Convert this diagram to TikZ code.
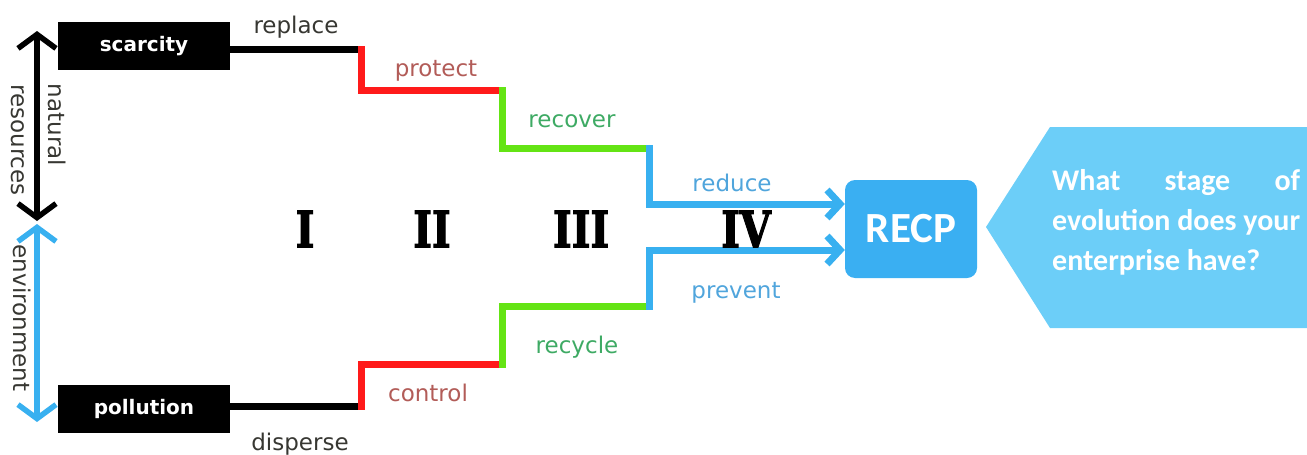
\documentclass[tikz,border=0pt]{standalone}
\usepackage{fontspec}
\setmainfont{DejaVu Sans}
\newfontfamily\carlito{Carlito}
\newfontfamily\numfont{DejaVu Serif}[BoldFeatures={FakeBold=2.5}]
\usetikzlibrary{arrows.meta}
\definecolor{sred}{RGB}{255,26,26}
\definecolor{sgreen}{RGB}{100,228,20}
\definecolor{sblue}{RGB}{56,176,240}
\definecolor{tred}{RGB}{178,92,88}
\definecolor{tgreen}{RGB}{62,170,100}
\definecolor{tblue}{RGB}{80,165,220}
\definecolor{tdark}{RGB}{55,55,50}
\definecolor{recpblue}{RGB}{58,175,242}
\definecolor{hexblue}{RGB}{108,206,248}
\begin{document}
\begin{tikzpicture}[x=1pt,y=-1pt,
  blackbox/.style={fill=black,minimum width=172pt,minimum height=48pt,inner sep=0pt,text=white,font=\bfseries\fontsize{20}{22}\selectfont},
  stair/.style={line width=7pt,line cap=rect},
  lbl/.style={anchor=base,inner sep=0pt,font=\fontsize{23}{26}\selectfont},
  side/.style={rotate=-90,inner sep=0pt,text=tdark,font=\fontsize{23}{26}\selectfont},
  roman/.style={inner sep=0pt,font=\numfont\bfseries\fontsize{50}{50}\selectfont},
  sidearrow/.style={line width=5.5pt,{Straight Barb[length=14pt,width=38pt]}-{Straight Barb[length=14pt,width=38pt]}},
  inarrow/.style={-{Straight Barb[length=13pt,width=28pt]}},
  question/.style={anchor=base west,inner sep=0pt,text=white,font=\carlito\bfseries\fontsize{30}{40}\selectfont},
]
\useasboundingbox (0,0) rectangle (1307,455);

% left side arrows
\coordinate (nt) at (37,31);
\coordinate (nb) at (37,221);
\coordinate (et) at (37,224);
\coordinate (eb) at (37,422);
\draw[sidearrow,black] (nt) -- (nb);
\draw[sidearrow,sblue] (et) -- (eb);
\node[side] (nat) at (57,125) {natural};
\node[side] (res) at (18,140) {resources};
\node[side] (env) at (22,318) {environment};

% boxes
\node[blackbox] (scar) at (144,46) {scarcity};
\node[blackbox] (poll) at (144,409) {pollution};

% RECP
\node[fill=recpblue,rounded corners=10pt,minimum width=132pt,minimum height=98pt,inner sep=0pt,text=white,font=\carlito\bfseries\fontsize{43}{43}\selectfont] (recp) at (911,229) {RECP};

% stair coordinates
\coordinate (a1) at (361,49);
\coordinate (a2) at (361,90);
\coordinate (a3) at (502,90);
\coordinate (a4) at (502,148);
\coordinate (a5) at (649,148);
\coordinate (a6) at (649,204);
\coordinate (b1) at (361,406);
\coordinate (b2) at (361,364);
\coordinate (b3) at (502,364);
\coordinate (b4) at (502,306);
\coordinate (b5) at (649,306);
\coordinate (b6) at (649,250);

% top stair
\draw[stair,black] (scar.east |- a1) -- (a1);
\draw[stair,sred] (a1) -- (a2) -- (a3);
\draw[stair,sgreen] (a3) -- (a4) -- (a5);
\draw[stair,sblue,inarrow] (a5) -- (a6) -- (a6 -| recp.west);
% bottom stair
\draw[stair,black] (poll.east |- b1) -- (b1);
\draw[stair,sred] (b1) -- (b2) -- (b3);
\draw[stair,sgreen] (b3) -- (b4) -- (b5);
\draw[stair,sblue,inarrow] (b5) -- (b6) -- (b6 -| recp.west);

% labels
\node[lbl,text=tdark] (l1) at (296,34) {replace};
\node[lbl,text=tred] (l2) at (436,76) {protect};
\node[lbl,text=tgreen] (l3) at (572,127) {recover};
\node[lbl,text=tblue] (l4) at (732,191) {reduce};
\node[lbl,text=tblue] (l5) at (736,298) {prevent};
\node[lbl,text=tgreen] (l6) at (577,353) {recycle};
\node[lbl,text=tred] (l7) at (428,401) {control};
\node[lbl,text=tdark] (l8) at (300,450) {disperse};

% roman numerals
\node[roman] (n1) at (305,229) {\scalebox{0.8}[1]{I}};
\node[roman] (n2) at (432,229) {\scalebox{0.8}[1]{II}};
\node[roman] (n3) at (581,229) {\scalebox{0.8}[1]{III}};
\node[roman] (n4) at (746,229) {\scalebox{0.8}[1]{IV}};

% question shape
\fill[hexblue] (1307,127) -- (1050,127) -- (986,227) -- (1050,328) -- (1307,328) -- cycle;
\node[question] (q1) at (1052,190) {\makebox[248pt][s]{What stage of}};
\node[question] (q2) at (1052,230) {evolution does your};
\node[question] (q3) at (1052,270) {enterprise have?};
\end{tikzpicture}
\end{document}
